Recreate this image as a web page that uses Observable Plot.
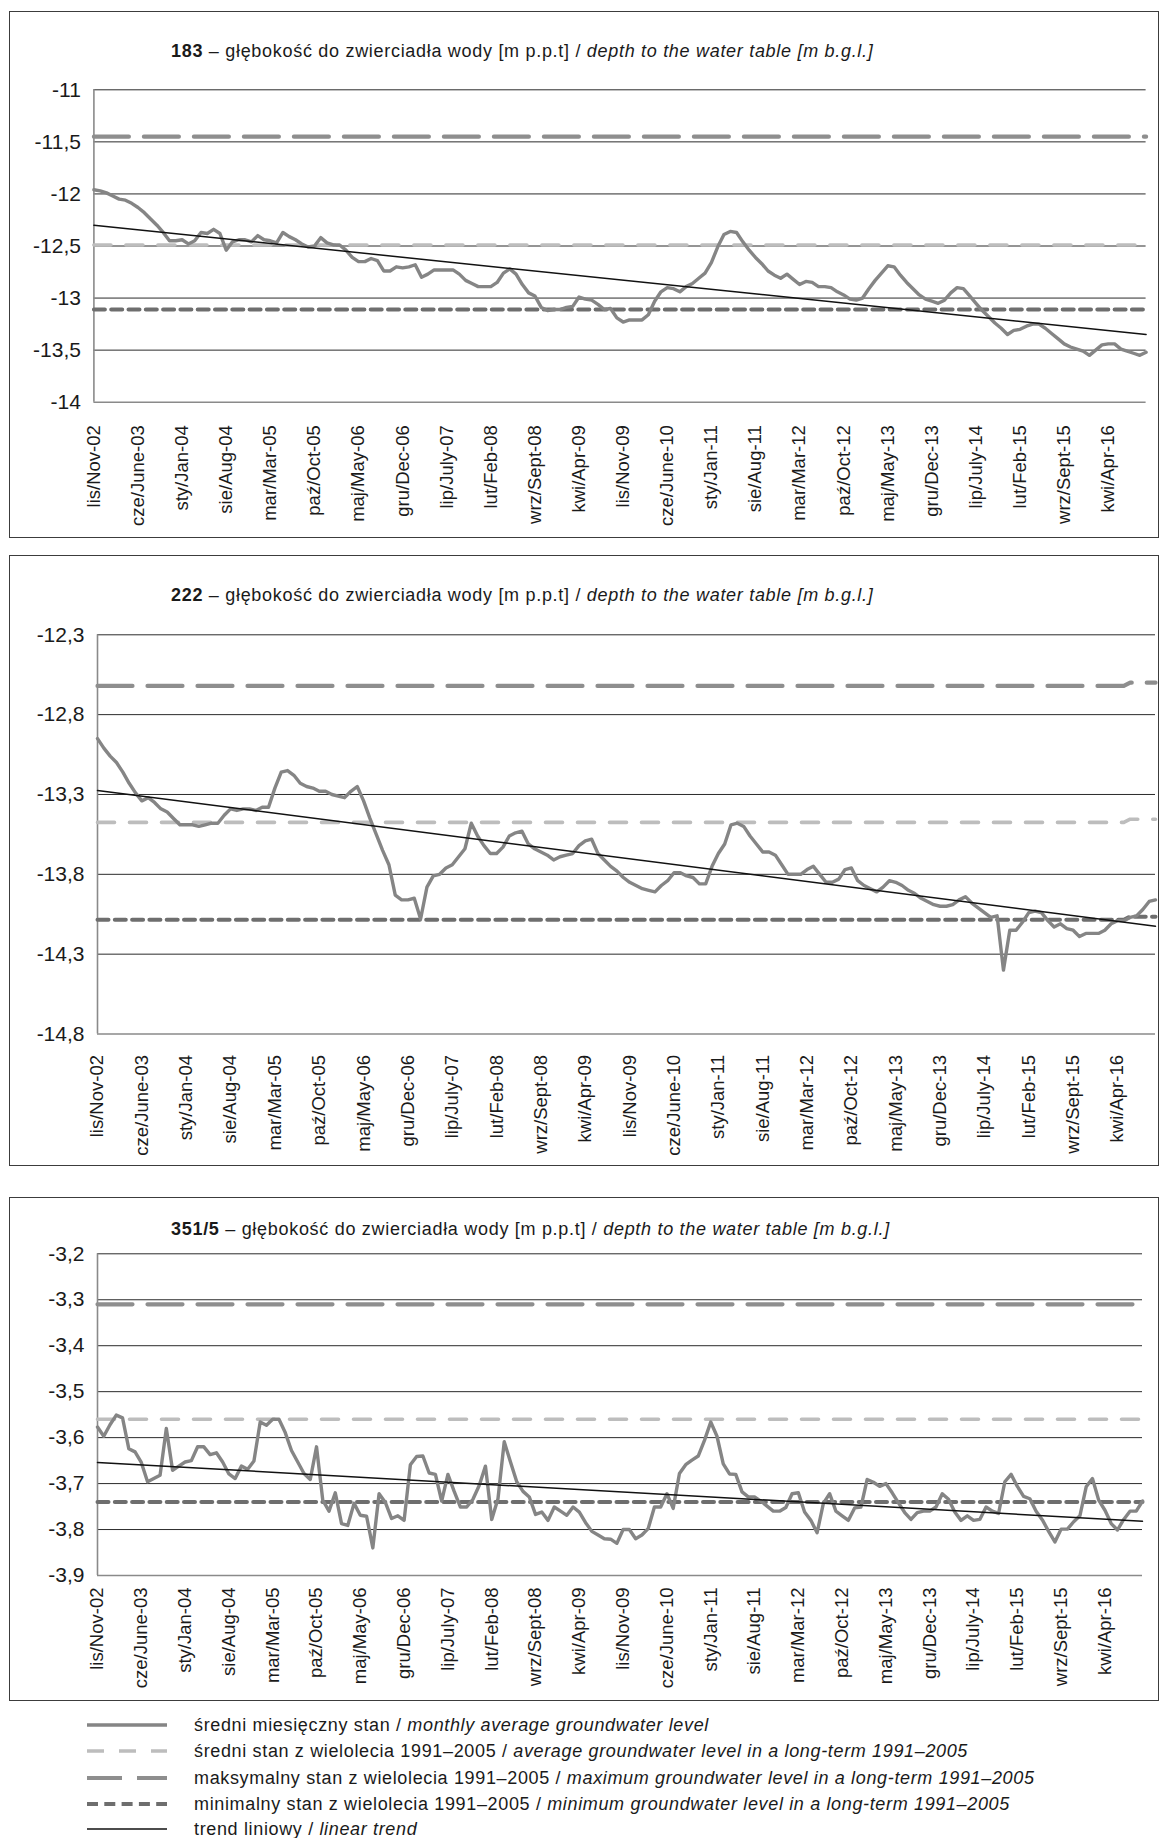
<!DOCTYPE html>
<html><head><meta charset="utf-8">
<script src="https://cdn.jsdelivr.net/npm/d3@7"></script>
<script src="https://cdn.jsdelivr.net/npm/@observablehq/plot@0.6"></script>
<style>
body{margin:0;background:#fff;font-family:"Liberation Sans",Arial,Helvetica,sans-serif;color:#1a1a1a;}
#page{position:relative;width:1161px;height:1838px;overflow:hidden;background:#fff;}
.panel{position:absolute;left:9px;width:1150px;border:1px solid #3c3c3c;box-sizing:border-box;}
.title{position:absolute;left:171px;font-size:18px;line-height:18px;letter-spacing:0.7px;white-space:nowrap;color:#1a1a1a;}
.chart{position:absolute;left:0;}
.legrow{position:absolute;left:86px;height:26px;line-height:26px;font-size:18px;letter-spacing:0.65px;white-space:nowrap;display:flex;align-items:center;}
.legrow svg{margin-right:26px;}
</style>
</head><body><div id="page"></div>
<script>
// ---------- data ----------
const wells = ["183", "222", "351/5"];

const labelPL = ["lis","cze","sty","sie","mar","paź","maj","gru","lip","lut","wrz","kwi","lis","cze","sty","sie","mar","paź","maj","gru","lip","lut","wrz","kwi"];
const labelEN = ["Nov","June","Jan","Aug","Mar","Oct","May","Dec","July","Feb","Sept","Apr","Nov","June","Jan","Aug","Mar","Oct","May","Dec","July","Feb","Sept","Apr"];
const labelYR = ["02","03","04","04","05","05","06","06","07","08","08","09","09","10","11","11","12","12","13","13","14","15","15","16"];
const labelStep = 7; // one label every 7 months, Nov 2002 .. Oct 2016 (168 months)

const level183 = [
-11.96,-11.97,-11.99,-12.02,-12.05,-12.06,-12.09,-12.13,-12.18,-12.24,
-12.30,-12.37,-12.45,-12.45,-12.44,-12.48,-12.45,-12.37,-12.38,-12.34,
-12.38,-12.54,-12.46,-12.44,-12.44,-12.46,-12.40,-12.44,-12.45,-12.47,
-12.37,-12.41,-12.44,-12.48,-12.51,-12.50,-12.42,-12.47,-12.49,-12.49,
-12.54,-12.61,-12.65,-12.65,-12.62,-12.64,-12.74,-12.74,-12.70,-12.71,
-12.70,-12.68,-12.80,-12.77,-12.73,-12.73,-12.73,-12.73,-12.77,-12.83,
-12.86,-12.89,-12.89,-12.89,-12.85,-12.76,-12.72,-12.77,-12.87,-12.95,
-12.98,-13.09,-13.12,-13.11,-13.11,-13.09,-13.08,-12.99,-13.01,-13.02,
-13.06,-13.11,-13.10,-13.19,-13.23,-13.21,-13.21,-13.21,-13.16,-13.03,
-12.94,-12.90,-12.91,-12.94,-12.89,-12.86,-12.81,-12.76,-12.66,-12.51,
-12.39,-12.36,-12.37,-12.46,-12.54,-12.61,-12.67,-12.74,-12.78,-12.81,
-12.77,-12.82,-12.87,-12.84,-12.85,-12.89,-12.89,-12.90,-12.94,-12.97,
-13.01,-13.02,-13.00,-12.91,-12.83,-12.76,-12.69,-12.70,-12.78,-12.85,
-12.91,-12.97,-13.01,-13.03,-13.05,-13.02,-12.95,-12.90,-12.91,-12.98,
-13.05,-13.12,-13.18,-13.24,-13.29,-13.35,-13.31,-13.30,-13.27,-13.25,
-13.25,-13.29,-13.34,-13.39,-13.44,-13.47,-13.49,-13.51,-13.55,-13.50,
-13.45,-13.44,-13.44,-13.49,-13.51,-13.53,-13.55,-13.52];

const level222 = [
-12.95,-13.01,-13.06,-13.10,-13.16,-13.23,-13.29,-13.34,-13.32,-13.35,
-13.39,-13.41,-13.45,-13.49,-13.49,-13.49,-13.50,-13.49,-13.48,-13.48,
-13.43,-13.39,-13.40,-13.39,-13.39,-13.40,-13.38,-13.38,-13.26,-13.16,
-13.15,-13.18,-13.23,-13.25,-13.26,-13.28,-13.28,-13.30,-13.31,-13.32,
-13.28,-13.25,-13.34,-13.45,-13.55,-13.65,-13.74,-13.93,-13.96,-13.96,
-13.95,-14.08,-13.88,-13.81,-13.80,-13.76,-13.74,-13.69,-13.64,-13.48,
-13.56,-13.62,-13.67,-13.67,-13.63,-13.56,-13.54,-13.53,-13.61,-13.64,
-13.66,-13.68,-13.71,-13.69,-13.68,-13.67,-13.62,-13.59,-13.58,-13.67,
-13.71,-13.75,-13.78,-13.82,-13.85,-13.87,-13.89,-13.90,-13.91,-13.87,
-13.84,-13.79,-13.79,-13.81,-13.82,-13.86,-13.86,-13.75,-13.67,-13.61,
-13.49,-13.48,-13.50,-13.56,-13.61,-13.66,-13.66,-13.68,-13.74,-13.80,
-13.80,-13.80,-13.77,-13.75,-13.80,-13.85,-13.85,-13.83,-13.77,-13.76,
-13.84,-13.87,-13.89,-13.91,-13.88,-13.84,-13.85,-13.87,-13.90,-13.92,
-13.95,-13.97,-13.99,-14.00,-14.00,-13.99,-13.96,-13.94,-13.98,-14.01,
-14.04,-14.07,-14.06,-14.40,-14.15,-14.15,-14.10,-14.04,-14.03,-14.04,
-14.09,-14.13,-14.11,-14.14,-14.15,-14.19,-14.17,-14.17,-14.17,-14.15,
-14.11,-14.09,-14.09,-14.07,-14.06,-14.02,-13.97,-13.96];

const level351 = [
-3.577,-3.597,-3.572,-3.551,-3.557,-3.624,-3.631,-3.654,-3.696,-3.689,
-3.682,-3.580,-3.671,-3.662,-3.653,-3.650,-3.620,-3.620,-3.637,-3.633,
-3.653,-3.679,-3.689,-3.662,-3.669,-3.651,-3.566,-3.573,-3.560,-3.560,
-3.589,-3.628,-3.653,-3.678,-3.691,-3.620,-3.736,-3.760,-3.720,-3.787,
-3.791,-3.743,-3.769,-3.771,-3.840,-3.722,-3.741,-3.776,-3.770,-3.780,
-3.659,-3.641,-3.640,-3.677,-3.680,-3.738,-3.680,-3.717,-3.751,-3.751,
-3.734,-3.704,-3.662,-3.778,-3.733,-3.609,-3.653,-3.696,-3.717,-3.729,
-3.767,-3.762,-3.780,-3.751,-3.760,-3.769,-3.751,-3.762,-3.785,-3.804,
-3.812,-3.820,-3.821,-3.830,-3.800,-3.800,-3.820,-3.812,-3.798,-3.751,
-3.751,-3.722,-3.754,-3.678,-3.659,-3.649,-3.640,-3.606,-3.566,-3.597,
-3.657,-3.679,-3.680,-3.718,-3.729,-3.729,-3.738,-3.749,-3.760,-3.760,
-3.752,-3.722,-3.720,-3.762,-3.780,-3.807,-3.743,-3.722,-3.760,-3.770,
-3.780,-3.753,-3.751,-3.691,-3.697,-3.706,-3.700,-3.720,-3.742,-3.763,
-3.778,-3.763,-3.760,-3.760,-3.751,-3.722,-3.734,-3.762,-3.780,-3.770,
-3.780,-3.778,-3.751,-3.760,-3.765,-3.696,-3.680,-3.706,-3.728,-3.733,
-3.760,-3.779,-3.804,-3.827,-3.799,-3.799,-3.783,-3.770,-3.707,-3.689,
-3.736,-3.758,-3.787,-3.801,-3.778,-3.760,-3.760,-3.738];

// long-term reference levels 1991–2005 as [month index, value] breakpoints
const max183  = [[0,-11.45],[167,-11.45]];
const mean183 = [[0,-12.49],[167,-12.49]];
const min183  = [[0,-13.11],[167,-13.11]];
const max222  = [[0,-12.62],[162,-12.62],[163,-12.60],[167,-12.60]];
const mean222 = [[0,-13.475],[162,-13.475],[163,-13.455],[167,-13.455]];
const min222  = [[0,-14.085],[162,-14.085],[163,-14.065],[167,-14.065]];
const max351  = [[0,-3.31],[167,-3.31]];
const mean351 = [[0,-3.56],[167,-3.56]];
const min351  = [[0,-3.74],[167,-3.74]];

// linear trend end points
const trend183 = [[0,-12.30],[167,-13.35]];
const trend222 = [[0,-13.275],[167,-14.125]];
const trend351 = [[0,-3.654],[167,-3.782]];

const yTicks183 = [-11,-11.5,-12,-12.5,-13,-13.5,-14];
const yTicks222 = [-12.3,-12.8,-13.3,-13.8,-14.3,-14.8];
const yTicks351 = [-3.2,-3.3,-3.4,-3.5,-3.6,-3.7,-3.8,-3.9];

const legendPL = ["średni miesięczny stan","średni stan z wielolecia 1991–2005","maksymalny stan z wielolecia 1991–2005","minimalny stan z wielolecia 1991–2005","trend liniowy"];
const legendEN = ["monthly average groundwater level","average groundwater level in a long-term 1991–2005","maximum groundwater level in a long-term 1991–2005","minimum groundwater level in a long-term 1991–2005","linear trend"];

// ---------- styles ----------
const S = {
  monthly: {stroke:"#858585", strokeWidth:3.4, strokeLinejoin:"round"},
  mean:    {stroke:"#bdbdbd", strokeWidth:3.6, strokeDasharray:"17,15"},
  max:     {stroke:"#8e8e8e", strokeWidth:4.2, strokeDasharray:"35,15"},
  min:     {stroke:"#6e6e6e", strokeWidth:4.0, strokeDasharray:"11,6.3"},
  trend:   {stroke:"#111", strokeWidth:1.5}
};
const FONT = "'Liberation Sans', Arial, Helvetica, sans-serif";
const fmt = d => String(d).replace(".", ",");
const labelIdx = labelPL.map((_, k) => k * labelStep);
const labelText = k => `${labelPL[k]}/${labelEN[k]}-${labelYR[k]}`;

const page = document.getElementById("page");

const panels = [
  {id: wells[0], values: level183, max: max183, mean: mean183, min: min183, trend: trend183, ticks: yTicks183,
   box: [11, 527], titleTop: 42, svgTop: 70, h: 470, mT: 19.3, mB: 138.3, mL: 93.4, mR: 15.4, pad: 23},
  {id: wells[1], values: level222, max: max222, mean: mean222, min: min222, trend: trend222, ticks: yTicks222,
   box: [555, 611], titleTop: 586, svgTop: 614, h: 545, mT: 20.3, mB: 125.5, mL: 97, mR: 6, pad: 21},
  {id: wells[2], values: level351, max: max351, mean: mean351, min: min351, trend: trend351, ticks: yTicks351,
   box: [1197, 504], titleTop: 1220, svgTop: 1234, h: 462, mT: 19.3, mB: 121, mL: 97, mR: 19, pad: 12}
];

for (const p of panels) {
  const box = document.createElement("div");
  box.className = "panel";
  box.style.top = p.box[0] + "px";
  box.style.height = p.box[1] + "px";
  page.appendChild(box);

  const title = document.createElement("div");
  title.className = "title";
  title.style.top = p.titleTop + "px";
  title.innerHTML = `<b>${p.id}</b> – głębokość do zwierciadła wody [m p.p.t] / <i>depth to the water table [m b.g.l.]</i>`;
  page.appendChild(title);

  const yMin = d3.min(p.ticks), yMax = d3.max(p.ticks);
  const series = p.values.map((v, i) => [i, v]);
  const svg = Plot.plot({
    width: 1161, height: p.h,
    marginTop: p.mT, marginBottom: p.mB, marginLeft: p.mL, marginRight: p.mR,
    x: {domain: [0, 167], axis: null},
    y: {domain: [yMin, yMax], axis: null},
    style: {fontFamily: FONT, background: "transparent", color: "#1a1a1a", overflow: "visible"},
    marks: [
      Plot.ruleY(p.ticks.filter(t => t !== yMin), {stroke: "#2b2b2b", strokeWidth: 1}),
      Plot.ruleY([yMin], {stroke: "#8a8a8a", strokeWidth: 1.6}),
      Plot.ruleX([0], {stroke: "#8a8a8a", strokeWidth: 1.6}),
      Plot.line(p.max, {x: d => d[0], y: d => d[1], ...S.max}),
      Plot.line(p.mean, {x: d => d[0], y: d => d[1], ...S.mean}),
      Plot.line(p.min, {x: d => d[0], y: d => d[1], ...S.min}),
      Plot.line(series, {x: d => d[0], y: d => d[1], ...S.monthly}),
      Plot.line(p.trend, {x: d => d[0], y: d => d[1], ...S.trend}),
      Plot.text(p.ticks, {x: () => 0, y: d => d, text: fmt, textAnchor: "end", dx: -13, fontSize: 21, fill: "#1a1a1a"}),
      Plot.text(labelIdx, {x: d => d, y: () => yMin, text: (d, k) => labelText(k), rotate: -90,
        textAnchor: "end", dy: p.pad, fontSize: 18.5, fill: "#1a1a1a", ariaLabel: "xlabels"})
    ]
  });
  svg.classList.add("chart");
  svg.style.top = p.svgTop + "px";
  svg.style.position = "absolute";
  svg.style.left = "0px";
  // italic English month names inside tick labels
  svg.querySelectorAll('g[aria-label="xlabels"] text').forEach(t => {
    const s = t.textContent, a = s.indexOf("/"), b = s.lastIndexOf("-");
    t.textContent = "";
    [[s.slice(0, a + 1), false], [s.slice(a + 1, b), true], [s.slice(b), false]].forEach(([txt, it]) => {
      const ts = document.createElementNS("http://www.w3.org/2000/svg", "tspan");
      ts.textContent = txt;
      if (it) ts.setAttribute("font-style", "italic");
      t.appendChild(ts);
    });
  });
  page.appendChild(svg);
}

// ---------- legend ----------
const legStyles = [S.monthly, S.mean, S.max, S.min, S.trend];
const legY = [1725, 1751, 1778, 1804, 1829];
legendPL.forEach((pl, k) => {
  const row = document.createElement("div");
  row.className = "legrow";
  row.style.top = (legY[k] - 13) + "px";
  const st = legStyles[k];
  row.innerHTML = `<svg width="82" height="26"><line x1="1" x2="81" y1="13" y2="13" stroke="${st.stroke}" stroke-width="${st.strokeWidth}" ${st.strokeDasharray ? `stroke-dasharray="${st.strokeDasharray}"` : ""}/></svg><span>${pl} / <i>${legendEN[k]}</i></span>`;
  page.appendChild(row);
});
</script>
</body></html>
